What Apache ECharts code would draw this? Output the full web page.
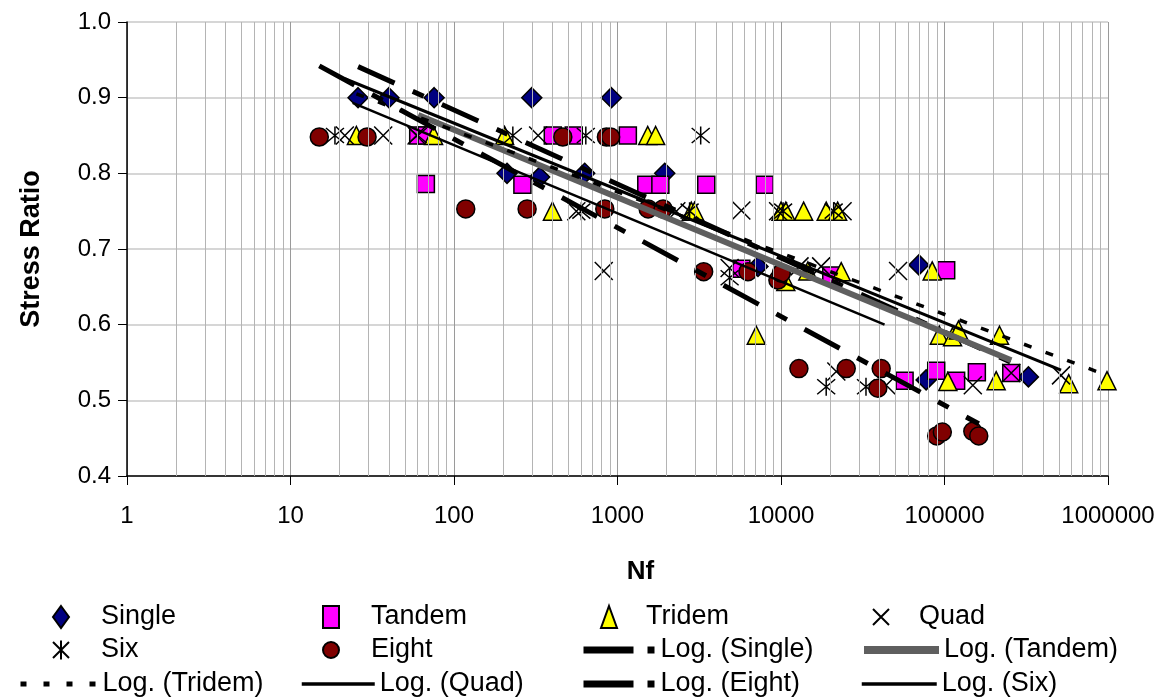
<!DOCTYPE html>
<html>
<head>
<meta charset="utf-8">
<script src="https://cdn.jsdelivr.net/npm/echarts@6/dist/echarts.min.js"></script>
<style>
html,body{margin:0;padding:0;background:#fff;}
#chart{width:1172px;height:700px;}
</style>
</head>
<body>
<div id="chart"></div>
<script>
// ---- data: [Nf, stress ratio] ----
const singleData = [[25.9,0.9],[40,0.9],[75.6,0.9],[299,0.9],[918,0.9],[211,0.8],[334,0.795],[630,0.8],[1945,0.8],[7230,0.677],[69700,0.679],[77200,0.527],[326000,0.531]];
const tandemData = [[60.4,0.85],[67.9,0.85],[67.3,0.786],[262,0.785],[402,0.85],[540,0.85],[1157,0.85],[1500,0.785],[1829,0.785],[3490,0.785],[7945,0.785],[5720,0.674],[20300,0.665],[102400,0.672],[57000,0.526],[89000,0.539],[117800,0.526],[157700,0.537],[256000,0.536]];
const tridemData = [[25.3,0.85],[75,0.85],[204,0.85],[1531,0.85],[1711,0.85],[400,0.75],[2826,0.75],[2960,0.75],[10000,0.75],[10700,0.75],[13750,0.75],[18900,0.75],[22200,0.75],[7060,0.586],[10700,0.657],[14600,0.671],[23350,0.67],[84100,0.671],[93000,0.586],[112000,0.584],[121800,0.593],[217000,0.586],[104800,0.525],[207000,0.526],[575000,0.522],[986000,0.526]];
const quadData = [[21.5,0.85],[36.9,0.85],[59,0.85],[327,0.85],[560,0.75],[2290,0.75],[5720,0.751],[9600,0.75],[23800,0.75],[824,0.671],[4850,0.675],[12980,0.677],[17600,0.677],[52000,0.671],[21800,0.538],[44000,0.52],[149000,0.52],[256000,0.536],[516000,0.533]];
const sixData = [[18.7,0.85],[60,0.85],[229,0.85],[640,0.85],[3227,0.85],[601,0.75],[2760,0.75],[10300,0.75],[21000,0.75],[4850,0.662],[18900,0.518],[33100,0.518]];
const eightData = [[15,0.848],[29.4,0.848],[463,0.848],[855,0.848],[908,0.848],[118,0.753],[280,0.753],[836,0.753],[1540,0.753],[1900,0.753],[3365,0.67],[6280,0.67],[9570,0.659],[10040,0.668],[12870,0.542],[25060,0.542],[41000,0.542],[39100,0.516],[89600,0.453],[97000,0.458],[149000,0.459],[162000,0.453]];

// trend lines (end points)
const logSingle = [[25.9,0.941],[326000,0.540]];
const logTandem = [[60.4,0.877],[256000,0.553]];
const logTridem = [[25.3,0.905],[986000,0.533]];
const logQuad   = [[21.5,0.925],[516000,0.540]];
const logEight  = [[15,0.942],[162000,0.469]];
const logSix    = [[24,0.893],[43000,0.600]];

// axis ticks
const xTicks = [1,10,100,1000,10000,100000,1000000];
const yTicks = [0.4,0.5,0.6,0.7,0.8,0.9,1.0];

const FONT = 'Liberation Sans';
const chart = echarts.init(document.getElementById('chart'));

// minor log grid lines (2..9 of each decade)
const minorLines = [];
for (let k = 0; k < 6; k++) {
  for (let m = 2; m <= 9; m++) minorLines.push({xAxis: m * Math.pow(10, k)});
}

const XSYM = 'path://M0,0L10,10M10,0L0,10';
const ASTSYM = 'path://M0,0L10,10M10,0L0,10M5,-1L5,11';

function scatter(name, data, symbol, size, color, border) {
  return {
    name: name, type: 'scatter', data: data, symbol: symbol, symbolSize: size,
    itemStyle: {color: color, borderColor: '#000', borderWidth: border, opacity: 1},
    z: 3, silent: true
  };
}
function trend(name, data, color, width, type) {
  return {
    name: name, type: 'line', data: data, showSymbol: false, symbol: 'none',
    lineStyle: {color: color, width: width, type: type, cap: 'butt'},
    itemStyle: {color: color},
    z: 5, silent: true
  };
}

const LFS = 27;
const LTOP = 13;
function markerLegend(name, cx, cy, textX) {
  const iw = 16, ih = 22, left = cx - iw / 2;
  return {
    data: [name], left: left, top: cy - LTOP, itemWidth: iw, itemHeight: ih, padding: 0,
    selectedMode: false,
    textStyle: {fontFamily: FONT, fontSize: LFS, color: '#000', lineHeight: 30,
      padding: [0, 0, 0, textX - (left + iw + 5)]}
  };
}
function lineLegend(name, x0, x1, cy, ls) {
  return {
    data: [name], left: x0, top: cy - LTOP, itemWidth: x1 - x0, itemHeight: 22, padding: 0,
    selectedMode: false,
    itemStyle: {opacity: 0},
    lineStyle: ls,
    textStyle: {fontFamily: FONT, fontSize: LFS, color: '#000', lineHeight: 30, padding: [0,0,0,0]}
  };
}
const r1 = 615, r2 = 648, r3 = 682;
const LS_DASH = {width: 7, type: [50, 14, 7, 14], color: '#000', cap: 'butt'};

chart.setOption({
  animation: false,
  backgroundColor: '#fff',
  grid: {left: 127, right: 64, top: 22, bottom: 224, containLabel: false},
  xAxis: {
    type: 'log', logBase: 10, min: 1, max: 1000000,
    name: 'Nf', nameLocation: 'middle', nameGap: 83,
    nameTextStyle: {fontFamily: FONT, fontSize: 26, fontWeight: 'bold', color: '#000', padding: [0, 0, 0, 46]},
    axisLine: {show: true, lineStyle: {color: '#000', width: 1.5}},
    axisTick: {show: true, length: 9, lineStyle: {color: '#000'}},
    axisLabel: {fontFamily: FONT, fontSize: 24, color: '#000', margin: 28,
      formatter: function (v) { return String(Math.round(v)); }},
    splitLine: {show: true, lineStyle: {color: '#9a9a9a', width: 1}},
    minorTick: {show: false}
  },
  yAxis: {
    type: 'value', min: 0.4, max: 1.0, interval: 0.1,
    name: 'Stress Ratio', nameLocation: 'middle', nameGap: 82, nameRotate: 90,
    nameTextStyle: {fontFamily: FONT, fontSize: 27, fontWeight: 'bold', color: '#000'},
    axisLine: {show: true, lineStyle: {color: '#000', width: 1.5}},
    axisTick: {show: true, length: 9, inside: false, lineStyle: {color: '#000'}},
    axisLabel: {fontFamily: FONT, fontSize: 24, color: '#000', margin: 16,
      formatter: function (v) { return v.toFixed(1); }},
    splitLine: {show: true, lineStyle: {color: '#c8c8c8', width: 1.5}}
  },
  legend: [
    markerLegend('Single', 60, r1, 100),
    markerLegend('Tandem', 330, r1, 370),
    markerLegend('Tridem', 608, r1, 645),
    markerLegend('Quad', 880, r1, 918),
    markerLegend('Six', 60, r2, 100),
    markerLegend('Eight', 330, r2, 370),
    lineLegend('Log. (Single)', 580, 652, r2, LS_DASH),
    lineLegend('Log. (Tandem)', 860, 935, r2, {width: 8, type: 'solid', color: '#5f5f5f'}),
    lineLegend('Log. (Tridem)', 18, 95, r3, {width: 5, type: [6, 17], color: '#000', cap: 'butt'}),
    lineLegend('Log. (Quad)', 300, 373, r3, {width: 3.5, type: 'solid', color: '#000'}),
    lineLegend('Log. (Eight)', 580, 652, r3, LS_DASH),
    lineLegend('Log. (Six)', 860, 935, r3, {width: 3.5, type: 'solid', color: '#000'})
  ],
  series: [
    {
      name: '__minor', type: 'line', data: [], silent: true, z: 1,
      markLine: {silent: true, symbol: 'none', label: {show: false},
        lineStyle: {color: '#b4b4b4', width: 1, type: 'solid'}, data: minorLines, animation: false}
    },
    scatter('Single', singleData, 'diamond', 20, '#000080', 1.5),
    scatter('Tandem', tandemData, 'rect', 17, '#ff00ff', 1.5),
    scatter('Tridem', tridemData, 'triangle', 18, '#ffff00', 1.5),
    scatter('Quad', quadData, XSYM, 18, 'rgba(0,0,0,0)', 1.5),
    scatter('Six', sixData, ASTSYM, 18, 'rgba(0,0,0,0)', 1.5),
    scatter('Eight', eightData, 'circle', 18, '#800000', 1.5),
    trend('Log. (Single)', logSingle, '#000', 5, [40, 20, 12, 20]),
    trend('Log. (Tandem)', logTandem, '#5f5f5f', 6, 'solid'),
    trend('Log. (Tridem)', logTridem, '#000', 3.5, [8, 15]),
    trend('Log. (Quad)', logQuad, '#000', 3, 'solid'),
    trend('Log. (Eight)', logEight, '#000', 5, [40, 20, 12, 20]),
    trend('Log. (Six)', logSix, '#000', 2.5, 'solid')
  ]
});
</script>
</body>
</html>
